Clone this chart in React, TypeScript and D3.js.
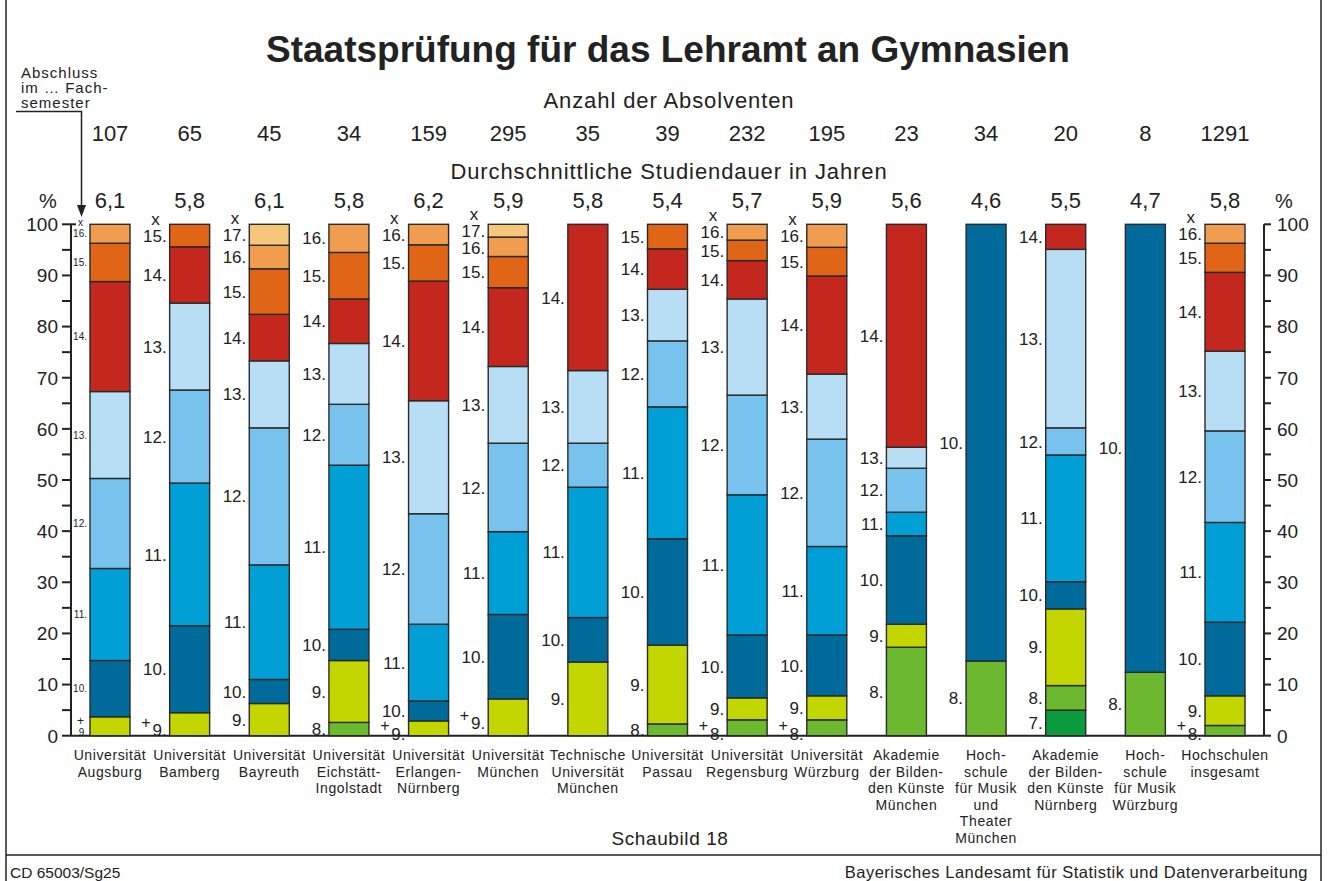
import React from 'react';
import * as d3 from 'd3';

// ── Data ────────────────────────────────────────────────────────────────
const categories = [
  ['Universität', 'Augsburg'],
  ['Universität', 'Bamberg'],
  ['Universität', 'Bayreuth'],
  ['Universität', 'Eichstätt-', 'Ingolstadt'],
  ['Universität', 'Erlangen-', 'Nürnberg'],
  ['Universität', 'München'],
  ['Technische', 'Universität', 'München'],
  ['Universität', 'Passau'],
  ['Universität', 'Regensburg'],
  ['Universität', 'Würzburg'],
  ['Akademie', 'der Bilden-', 'den Künste', 'München'],
  ['Hoch-', 'schule', 'für Musik', 'und', 'Theater', 'München'],
  ['Akademie', 'der Bilden-', 'den Künste', 'Nürnberg'],
  ['Hoch-', 'schule', 'für Musik', 'Würzburg'],
  ['Hochschulen', 'insgesamt'],
];

const absolventen = [107, 65, 45, 34, 159, 295, 35, 39, 232, 195, 23, 34, 20, 8, 1291];
const studiendauer = ['6,1', '5,8', '6,1', '5,8', '6,2', '5,9', '5,8', '5,4', '5,7', '5,9', '5,6', '4,6', '5,5', '4,7', '5,8'];

// share of graduates (%) by semester of completion
const sem7 = [0, 0, 0, 0, 0, 0, 0, 0, 0, 0, 0, 0, 5.0, 0, 0];
const sem8 = [0, 0, 0, 2.6, 0, 0, 0, 2.3, 3.1, 3.1, 17.3, 14.6, 4.8, 12.4, 2.0];
const sem9 = [3.7, 4.5, 6.3, 12.1, 2.9, 7.2, 14.4, 15.4, 4.3, 4.7, 4.5, 0, 15.0, 0, 5.8];
const sem10 = [11.0, 17.0, 4.7, 6.1, 3.9, 16.5, 8.7, 20.8, 12.3, 11.9, 17.3, 85.4, 5.3, 87.6, 14.4];
const sem11 = [18.0, 27.9, 22.4, 32.1, 15.0, 16.2, 25.5, 25.8, 27.4, 17.3, 4.6, 0, 24.8, 0, 19.5];
const sem12 = [17.6, 18.2, 26.8, 11.9, 21.6, 17.3, 8.6, 12.9, 19.5, 21.0, 8.6, 0, 5.3, 0, 17.9];
const sem13 = [17.0, 17.0, 13.1, 11.9, 22.1, 15.0, 14.2, 10.1, 18.8, 12.7, 4.1, 0, 34.9, 0, 15.6];
const sem14 = [21.5, 11.0, 9.1, 8.7, 23.4, 15.4, 28.6, 7.9, 7.5, 19.2, 43.6, 0, 4.9, 0, 15.4];
const sem15 = [7.5, 4.4, 8.9, 9.1, 7.1, 6.1, 0, 4.8, 4.0, 5.6, 0, 0, 0, 0, 5.7];
const sem16 = [3.7, 0, 4.6, 5.5, 4.0, 3.8, 0, 0, 3.1, 4.5, 0, 0, 0, 0, 3.7];
const sem17 = [0, 0, 4.1, 0, 0, 2.5, 0, 0, 0, 0, 0, 0, 0, 0, 0];

// "x" above the column, "+" beside the lowest label
const hasX = [true, true, true, false, true, true, false, false, true, true, false, false, false, false, true];
const hasPlus = [true, true, false, false, true, true, false, false, true, true, false, false, false, false, true];

const semesters = [7, 8, 9, 10, 11, 12, 13, 14, 15, 16, 17];
const semesterSeries = [sem7, sem8, sem9, sem10, sem11, sem12, sem13, sem14, sem15, sem16, sem17];
const semesterColors = [
  '#0b9a3c', '#6cb82f', '#c3d600', '#006b9b', '#00a0d7', '#77c3ee',
  '#b8def6', '#c4271e', '#e06516', '#f19d4f', '#f6c77b',
];

const yTicks = d3.range(0, 101, 10);
const yMinor = d3.range(0, 101, 5);

// ── Layout ──────────────────────────────────────────────────────────────
const W = 1332;
const H = 881;
const FONT = "'Liberation Sans', Arial, Helvetica, sans-serif";
const barW = 40;

export default function App() {
  const x = d3.scalePoint<number>().domain(d3.range(categories.length)).range([110, 1225]);
  const y = d3.scaleLinear().domain([0, 100]).range([735.7, 224.3]);
  const color = d3.scaleOrdinal<number, string>().domain(semesters).range(semesterColors);

  const table = categories.map((_, i) => {
    const row: Record<string, number> = {};
    semesters.forEach((s, k) => (row[s] = semesterSeries[k][i]));
    return row;
  });
  const stack = d3.stack<Record<string, number>>().keys(semesters.map(String))(table);

  const axisL = 71;
  const axisR = 1264;

  // per-column labels: centred on their segment, then spread apart
  const labels = categories.map((_, i) => {
    const list = stack
      .map((layer) => ({ sem: +layer.key, y0: layer[i][0], y1: layer[i][1] }))
      .filter((d) => d.y1 - d.y0 > 0)
      .map((d) => ({ sem: d.sem, cy: y((d.y0 + d.y1) / 2) }));
    const small = i === 0;
    const gap = small ? 9 : 16.5;
    const n = list.length;
    // top-down
    if (hasX[i] && !small) list[n - 1].cy = Math.max(list[n - 1].cy, y(100) + 7);
    for (let k = n - 2; k >= 0; k--) list[k].cy = Math.max(list[k].cy, list[k + 1].cy + gap);
    // lowest label drops towards the baseline when a "+" stands next to it
    if (hasPlus[i]) list[0].cy = Math.min(list[0].cy + 6, y(0) - 2);
    for (let k = 1; k < n; k++) list[k].cy = Math.min(list[k].cy, list[k - 1].cy - gap);
    return list;
  });

  return (
    <div style={{ position: 'fixed', left: 0, top: 0 }}>
      <svg width={W} height={H} style={{ display: 'block', background: '#fff', fontFamily: FONT }}>
        {/* frame */}
        <line x1={6} x2={6} y1={0} y2={H} stroke="#222" strokeWidth={1.5} />
        <line x1={1321} x2={1321} y1={0} y2={H} stroke="#222" strokeWidth={1.5} />
        <line x1={6} x2={1321} y1={855} y2={855} stroke="#222" strokeWidth={1.5} />

        {/* header */}
        <text x={668} y={62} textAnchor="middle" fontSize={37} fontWeight="bold" fill="#222">
          Staatsprüfung für das Lehramt an Gymnasien
        </text>
        <text x={669} y={108} textAnchor="middle" fontSize={22} letterSpacing={0.9} fill="#222">
          Anzahl der Absolventen
        </text>
        <text x={669} y={179} textAnchor="middle" fontSize={22} letterSpacing={0.9} fill="#222">
          Durchschnittliche Studiendauer in Jahren
        </text>
        {absolventen.map((v, i) => (
          <text key={'n' + i} x={x(i)} y={141} textAnchor="middle" fontSize={22} fill="#222">
            {v}
          </text>
        ))}
        {studiendauer.map((v, i) => (
          <text key={'d' + i} x={x(i)} y={208} textAnchor="middle" fontSize={22} fill="#222">
            {v}
          </text>
        ))}
        <text x={48} y={208} textAnchor="middle" fontSize={20} fill="#222">%</text>
        <text x={1284} y={208} textAnchor="middle" fontSize={20} fill="#222">%</text>

        {/* annotation with arrow */}
        <g fontSize={15} fill="#222" letterSpacing={1}>
          <text x={21} y={78}>Abschluss</text>
          <text x={21} y={93}>im … Fach-</text>
          <text x={21} y={108}>semester</text>
        </g>
        <polyline points="16,111.5 81.5,111.5 81.5,208" fill="none" stroke="#222" strokeWidth={1.5} />
        <polygon points="77,205 86,205 81.5,217" fill="#222" />

        {/* left axis */}
        <line x1={axisL} x2={axisL} y1={y(100)} y2={y(0)} stroke="#222" strokeWidth={2} />
        <line x1={axisL} x2={axisL + 5} y1={y(100)} y2={y(100)} stroke="#222" strokeWidth={2} />
        {yMinor.map((t) => (
          <line key={'lt' + t} x1={axisL - 9} x2={axisL} y1={y(t)} y2={y(t)} stroke="#222" strokeWidth={2} />
        ))}
        {yTicks.map((t) => (
          <text key={'ll' + t} x={58} y={y(t)} dy="0.36em" textAnchor="end" fontSize={19} fill="#222">
            {t}
          </text>
        ))}

        {/* right axis */}
        <line x1={axisR} x2={axisR} y1={y(100)} y2={y(0)} stroke="#222" strokeWidth={2} />
        {yMinor.map((t) => (
          <line key={'rt' + t} x1={axisR} x2={axisR + 7} y1={y(t)} y2={y(t)} stroke="#222" strokeWidth={2} />
        ))}
        {yTicks.map((t) => (
          <text key={'rl' + t} x={1277} y={y(t)} dy="0.36em" textAnchor="start" fontSize={19} fill="#222">
            {t}
          </text>
        ))}

        {/* baseline */}
        <line x1={axisL} x2={axisR} y1={y(0)} y2={y(0)} stroke="#222" strokeWidth={2} />

        {/* stacked bars */}
        {stack.map((layer) => (
          <g key={layer.key} fill={color(+layer.key)}>
            {layer.map((d, i) =>
              d[1] - d[0] > 0 ? (
                <rect
                  key={i}
                  x={(x(i) as number) - barW / 2}
                  y={y(d[1])}
                  width={barW}
                  height={y(d[0]) - y(d[1])}
                  stroke="#2a2a2a"
                  strokeWidth={1.4}
                />
              ) : null,
            )}
          </g>
        ))}

        {/* segment labels */}
        {labels.map((list, i) => {
          const xr = (x(i) as number) - barW / 2 - 3;
          const small = i === 0;
          const fs = small ? 10 : 17;
          const top = list[list.length - 1];
          return (
            <g key={'lab' + i} fill="#222" fontSize={fs} textAnchor="end">
              {list.map((l) => (
                <text key={l.sem} x={xr} y={l.cy} dy="0.36em">
                  {l.sem}.
                </text>
              ))}
              {hasX[i] && (
                <text x={xr - (small ? 4 : 7)} y={top.cy - (small ? 11 : 16)} dy="0.3em">
                  x
                </text>
              )}
              {hasPlus[i] && (
                <text
                  x={xr - (small ? 3 : 16)}
                  y={list[0].cy - (small ? 12 : 8)}
                  dy="0.36em"
                  fontSize={small ? 12 : 16}
                >
                  +
                </text>
              )}
            </g>
          );
        })}

        {/* category labels */}
        {categories.map((lines, i) => (
          <text key={'c' + i} x={x(i)} y={760} textAnchor="middle" fontSize={14} letterSpacing={0.6} fill="#222">
            {lines.map((l, k) => (
              <tspan key={k} x={x(i)} dy={k === 0 ? 0 : 16.6}>
                {l}
              </tspan>
            ))}
          </text>
        ))}

        {/* footer */}
        <text x={670} y={845} textAnchor="middle" fontSize={19} letterSpacing={0.6} fill="#222">Schaubild 18</text>
        <text x={10} y={878} fontSize={15.5} fill="#222">CD 65003/Sg25</text>
        <text x={1308} y={878} textAnchor="end" fontSize={16.5} letterSpacing={0.5} fill="#222">
          Bayerisches Landesamt für Statistik und Datenverarbeitung
        </text>
      </svg>
    </div>
  );
}
